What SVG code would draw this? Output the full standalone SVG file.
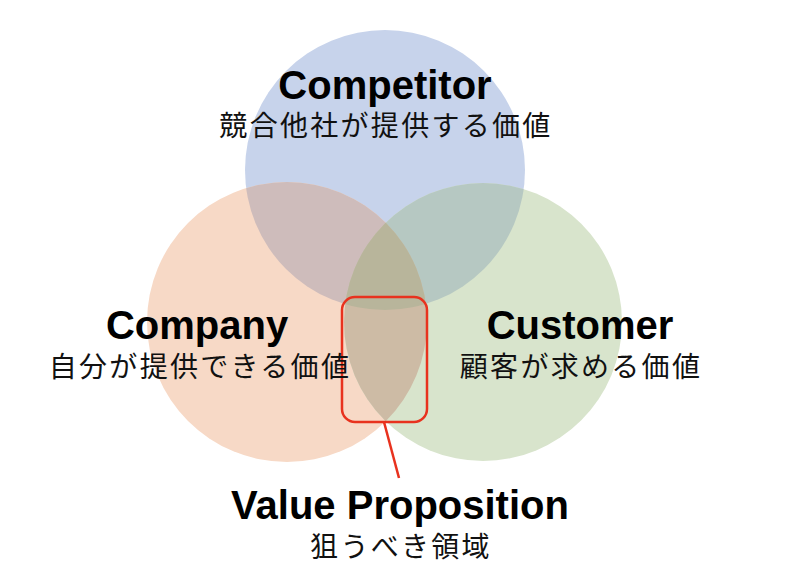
<svg xmlns="http://www.w3.org/2000/svg" width="800" height="580" viewBox="0 0 800 580">
<style>
.en{font-family:"Liberation Sans",Arial,sans-serif;font-weight:bold;font-size:40px;fill:#000;text-anchor:middle}
.jp{font-family:"Noto Sans CJK JP","Noto Sans CJK SC",sans-serif;font-weight:400;font-size:28px;letter-spacing:2.3px;fill:#111;text-anchor:middle}
.red{fill:none;stroke:#e8321e;stroke-width:2.5}
</style>
<defs>
<circle id="cB" cx="385" cy="170" r="140"/>
<circle id="cO" cx="287" cy="322" r="140"/>
<circle id="cG" cx="483" cy="322" r="139"/>
<clipPath id="clipB"><use href="#cB"/></clipPath>
<clipPath id="clipO"><use href="#cO"/></clipPath>
<clipPath id="clipG"><use href="#cG"/></clipPath>
</defs>
<rect width="800" height="580" fill="#fff"/>
<g id="competitor-circle"><use href="#cB" fill="#c7d3eb"/></g>
<g id="company-circle"><use href="#cO" fill="#f7d9c6"/></g>
<g id="customer-circle"><use href="#cG" fill="#d8e4cc"/></g>
<g id="overlaps">
<g clip-path="url(#clipO)"><use href="#cB" fill="#cebcbb"/></g>
<g clip-path="url(#clipG)"><use href="#cB" fill="#b6c8c2"/></g>
<g clip-path="url(#clipG)"><use href="#cO" fill="#cdbba5"/></g>
<g clip-path="url(#clipG)"><g clip-path="url(#clipO)"><use href="#cB" fill="#b8b59b"/></g></g>
</g>
<g id="connectors">
<rect class="red" x="342" y="297" width="85" height="125" rx="13"/>
<line class="red" x1="384" y1="422" x2="399" y2="478"/>
</g>
<g id="competitor-label">
<text class="en" x="385" y="99">Competitor</text>
<text class="jp" x="386" y="136">競合他社が提供する価値</text>
</g>
<g id="company-label">
<text class="en" x="197" y="339">Company</text>
<text class="jp" x="200" y="377">自分が提供できる価値</text>
</g>
<g id="customer-label">
<text class="en" x="580" y="339">Customer</text>
<text class="jp" x="581" y="377">顧客が求める価値</text>
</g>
<g id="value-label">
<text class="en" x="400" y="519">Value Proposition</text>
<text class="jp" x="401" y="557">狙うべき領域</text>
</g>
</svg>
